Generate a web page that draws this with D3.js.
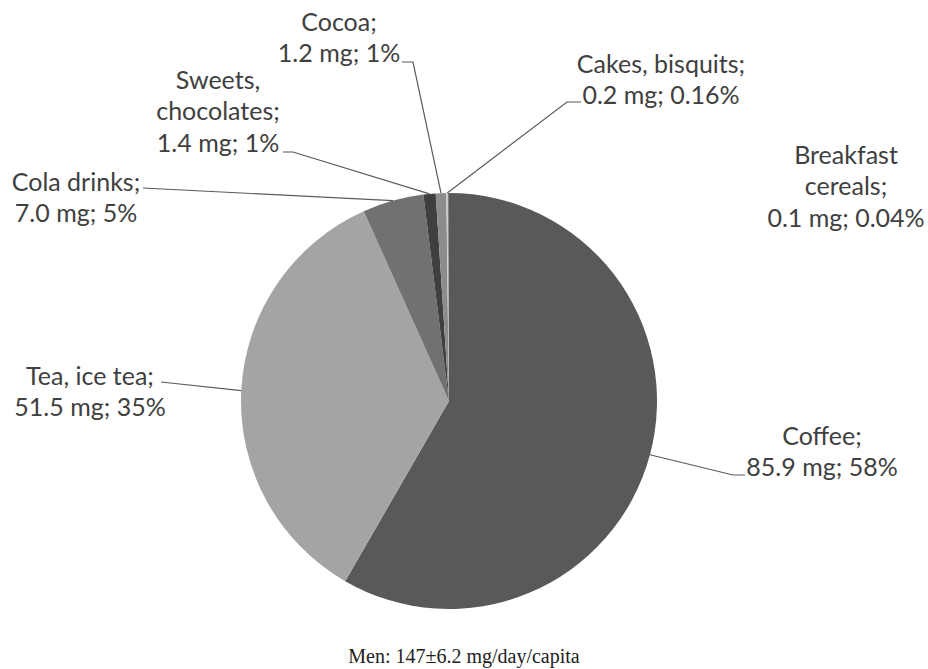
<!DOCTYPE html>
<html><head><meta charset="utf-8">
<script src="https://cdn.jsdelivr.net/npm/d3@7"></script>
<style>body{margin:0;background:#fff}svg{display:block}</style>
</head><body>
<svg id="c" width="928" height="669"></svg>
<script>
const categories = ["Coffee", "Tea, ice tea", "Cola drinks", "Sweets, chocolates", "Cocoa", "Cakes, bisquits", "Breakfast cereals"];
const values = [85.9, 51.5, 7.0, 1.4, 1.2, 0.2, 0.1];
const percentLabels = ["58%", "35%", "5%", "1%", "1%", "0.16%", "0.04%"];
const labelLines = [
  ["Coffee;", "85.9 mg; 58%"],
  ["Tea, ice tea;", "51.5 mg; 35%"],
  ["Cola drinks;", "7.0 mg; 5%"],
  ["Sweets,", "chocolates;", "1.4 mg; 1%"],
  ["Cocoa;", "1.2 mg; 1%"],
  ["Cakes, bisquits;", "0.2 mg; 0.16%"],
  ["Breakfast", "cereals;", "0.1 mg; 0.04%"]
];
const footer = "Men: 147\u00b16.2 mg/day/capita";

const colors = ["#58595b", "#a3a4a6", "#707173", "#3e3f41", "#8b8c8e", "#cbcbcb", "#6a6a6c"];
const layout = [
  {x: 822, y: 436, end: [745, 475], hook: [733, 475]},
  {x: 90, y: 376, end: [161, 382], hook: null},
  {x: 76, y: 182, end: [143, 188], hook: null},
  {x: 218, y: 80, end: [283, 152], hook: [293, 152]},
  {x: 339, y: 22, end: [402, 62], hook: [413, 62]},
  {x: 661, y: 64, end: [581, 102], hook: [567, 102]},
  {x: 846, y: 155, end: null, hook: null}
];

const svg = d3.select("#c");
const cx = 449, cy = 401, R = 208;
const g = svg.append("g").attr("transform", `translate(${cx},${cy})`);
const pie = d3.pie().sort(null).value(d => d)(values);
const arc = d3.arc().innerRadius(0).outerRadius(R);

g.selectAll("path.s").data(pie).join("path").attr("class", "s")
  .attr("d", arc).attr("fill", (d, i) => colors[i]);

pie.forEach((d, i) => {
  const L = layout[i];
  if (!L.end) return;
  const a = (d.startAngle + d.endAngle) / 2;
  const px = cx + R * Math.sin(a), py = cy - R * Math.cos(a);
  const pts = [[px, py]];
  if (L.hook) pts.push(L.hook);
  pts.push(L.end);
  svg.append("path").attr("d", d3.line()(pts))
    .attr("fill", "none").attr("stroke", "#5a5a5a").attr("stroke-width", 1.2);
});

const lh = 31.5;
labelLines.forEach((lines, i) => {
  const L = layout[i];
  const t = svg.append("text").attr("font-family", "Lato, 'Open Sans', sans-serif")
    .attr("font-size", 25).attr("fill", "#404040").attr("text-anchor", "middle");
  lines.forEach((s, j) => {
    t.append("tspan").attr("x", L.x).attr("y", L.y + j * lh).attr("dy", "0.35em").text(s);
  });
});

svg.append("text").attr("x", 464).attr("y", 656).attr("dy", "0.35em")
  .attr("text-anchor", "middle").attr("font-family", "'Liberation Serif', 'Times New Roman', serif")
  .attr("font-size", 20).attr("fill", "#222").text(footer);
</script>
</body></html>
